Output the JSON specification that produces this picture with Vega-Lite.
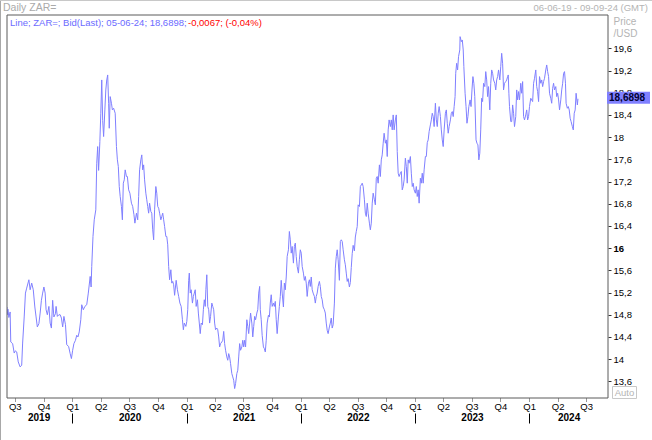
{
"$schema": "https://vega.github.io/schema/vega-lite/v6.json",
"width": 601, "height": 383,
"autosize": {"type": "none"},
"padding": {"left": 7, "top": 15, "right": 44, "bottom": 42},
"background": "white",
"config": {"view": {"stroke": null}, "font": "Liberation Sans", "text": {"font": "Liberation Sans"}, "axis": {"labelFont": "Liberation Sans", "titleFont": "Liberation Sans", "grid": false}},
"resolve": {"axis": {"x": "independent", "y": "independent"}},
"datasets": {"one": [{}], "zar": [
{"d":"2019-06-06","v":14.94},{"d":"2019-06-07","v":14.80},{"d":"2019-06-09","v":14.90},{"d":"2019-06-12","v":14.75},{"d":"2019-06-16","v":14.85},{"d":"2019-06-18","v":14.31},{"d":"2019-06-24","v":14.28},{"d":"2019-06-29","v":14.11},{"d":"2019-07-03","v":14.15},{"d":"2019-07-07","v":14.13},{"d":"2019-07-12","v":13.95},{"d":"2019-07-18","v":13.86},{"d":"2019-07-23","v":13.89},{"d":"2019-07-26","v":14.29},{"d":"2019-07-31","v":14.76},{"d":"2019-08-04","v":15.19},{"d":"2019-08-08","v":15.28},{"d":"2019-08-15","v":15.43},{"d":"2019-08-19","v":15.25},{"d":"2019-08-24","v":15.37},{"d":"2019-08-29","v":15.25},{"d":"2019-09-03","v":14.94},{"d":"2019-09-07","v":14.76},{"d":"2019-09-11","v":14.58},{"d":"2019-09-16","v":14.64},{"d":"2019-09-20","v":14.83},{"d":"2019-09-24","v":15.06},{"d":"2019-09-28","v":15.19},{"d":"2019-10-02","v":15.30},{"d":"2019-10-06","v":15.19},{"d":"2019-10-09","v":14.89},{"d":"2019-10-13","v":14.80},{"d":"2019-10-18","v":14.95},{"d":"2019-10-22","v":14.65},{"d":"2019-10-26","v":14.56},{"d":"2019-10-30","v":15.06},{"d":"2019-11-03","v":14.76},{"d":"2019-11-08","v":14.82},{"d":"2019-11-10","v":14.95},{"d":"2019-11-14","v":14.77},{"d":"2019-11-19","v":14.80},{"d":"2019-11-23","v":14.80},{"d":"2019-11-27","v":14.74},{"d":"2019-12-01","v":14.58},{"d":"2019-12-05","v":14.77},{"d":"2019-12-10","v":14.62},{"d":"2019-12-14","v":14.26},{"d":"2019-12-20","v":14.23},{"d":"2019-12-25","v":14.10},{"d":"2019-12-29","v":14.01},
{"d":"2020-01-02","v":14.16},{"d":"2020-01-06","v":14.28},{"d":"2020-01-11","v":14.34},{"d":"2020-01-15","v":14.43},{"d":"2020-01-19","v":14.40},{"d":"2020-01-23","v":14.49},{"d":"2020-01-28","v":14.71},{"d":"2020-01-31","v":14.98},{"d":"2020-02-05","v":14.89},{"d":"2020-02-10","v":14.95},{"d":"2020-02-16","v":14.98},{"d":"2020-02-21","v":15.19},{"d":"2020-02-27","v":15.49},{"d":"2020-03-01","v":15.30},{"d":"2020-03-03","v":15.67},{"d":"2020-03-07","v":16.21},{"d":"2020-03-11","v":16.51},{"d":"2020-03-16","v":16.69},{"d":"2020-03-19","v":17.53},{"d":"2020-03-22","v":17.83},{"d":"2020-03-25","v":17.40},{"d":"2020-03-29","v":17.92},{"d":"2020-04-01","v":18.43},{"d":"2020-04-04","v":19.03},{"d":"2020-04-07","v":18.30},{"d":"2020-04-10","v":18.01},{"d":"2020-04-14","v":18.49},{"d":"2020-04-17","v":18.85},{"d":"2020-04-20","v":19.03},{"d":"2020-04-23","v":19.12},{"d":"2020-04-26","v":18.61},{"d":"2020-04-28","v":18.16},{"d":"2020-05-01","v":18.73},{"d":"2020-05-05","v":18.61},{"d":"2020-05-08","v":18.49},{"d":"2020-05-12","v":18.52},{"d":"2020-05-17","v":18.43},{"d":"2020-05-21","v":17.83},{"d":"2020-05-24","v":17.59},{"d":"2020-05-27","v":17.47},{"d":"2020-05-30","v":17.11},{"d":"2020-06-02","v":16.93},{"d":"2020-06-06","v":16.75},{"d":"2020-06-09","v":16.51},{"d":"2020-06-12","v":17.17},{"d":"2020-06-15","v":17.23},{"d":"2020-06-18","v":17.41},{"d":"2020-06-22","v":17.29},{"d":"2020-06-25","v":17.29},{"d":"2020-06-29","v":17.05},{"d":"2020-07-03","v":16.99},{"d":"2020-07-08","v":16.81},{"d":"2020-07-12","v":16.75},{"d":"2020-07-16","v":16.60},{"d":"2020-07-19","v":16.45},{"d":"2020-07-24","v":16.63},{"d":"2020-07-28","v":16.51},{"d":"2020-07-31","v":16.93},{"d":"2020-08-03","v":17.41},{"d":"2020-08-07","v":17.59},{"d":"2020-08-10","v":17.68},{"d":"2020-08-13","v":17.41},{"d":"2020-08-16","v":17.50},{"d":"2020-08-19","v":17.23},{"d":"2020-08-23","v":16.99},{"d":"2020-08-26","v":16.87},{"d":"2020-08-29","v":16.75},{"d":"2020-09-01","v":16.63},{"d":"2020-09-04","v":16.81},{"d":"2020-09-08","v":16.66},{"d":"2020-09-11","v":16.63},{"d":"2020-09-14","v":16.33},{"d":"2020-09-17","v":16.15},{"d":"2020-09-20","v":16.69},{"d":"2020-09-24","v":17.11},{"d":"2020-09-27","v":16.99},{"d":"2020-09-30","v":16.75},{"d":"2020-10-03","v":16.72},{"d":"2020-10-06","v":16.63},{"d":"2020-10-10","v":16.51},{"d":"2020-10-13","v":16.57},{"d":"2020-10-16","v":16.63},{"d":"2020-10-19","v":16.51},{"d":"2020-10-22","v":16.39},{"d":"2020-10-26","v":16.21},{"d":"2020-10-29","v":16.21},{"d":"2020-11-01","v":16.06},{"d":"2020-11-04","v":15.67},{"d":"2020-11-07","v":15.43},{"d":"2020-11-11","v":15.61},{"d":"2020-11-14","v":15.37},{"d":"2020-11-17","v":15.40},{"d":"2020-11-20","v":15.34},{"d":"2020-11-23","v":15.15},{"d":"2020-11-28","v":15.42},{"d":"2020-12-02","v":15.25},{"d":"2020-12-06","v":15.13},{"d":"2020-12-10","v":15.01},{"d":"2020-12-14","v":14.95},{"d":"2020-12-18","v":14.71},{"d":"2020-12-21","v":14.53},{"d":"2020-12-24","v":14.65},{"d":"2020-12-29","v":14.59},
{"d":"2021-01-01","v":14.68},{"d":"2021-01-04","v":14.89},{"d":"2021-01-07","v":15.42},{"d":"2021-01-09","v":15.55},{"d":"2021-01-12","v":15.19},{"d":"2021-01-15","v":15.25},{"d":"2021-01-19","v":15.01},{"d":"2021-01-22","v":15.13},{"d":"2021-01-25","v":15.19},{"d":"2021-01-28","v":15.25},{"d":"2021-01-31","v":14.95},{"d":"2021-02-04","v":15.07},{"d":"2021-02-07","v":14.83},{"d":"2021-02-10","v":14.65},{"d":"2021-02-13","v":14.46},{"d":"2021-02-16","v":14.65},{"d":"2021-02-20","v":14.62},{"d":"2021-02-23","v":14.89},{"d":"2021-02-26","v":15.07},{"d":"2021-03-01","v":14.95},{"d":"2021-03-03","v":15.25},{"d":"2021-03-06","v":15.52},{"d":"2021-03-09","v":14.95},{"d":"2021-03-12","v":14.89},{"d":"2021-03-15","v":14.65},{"d":"2021-03-18","v":14.77},{"d":"2021-03-22","v":15.01},{"d":"2021-03-25","v":14.95},{"d":"2021-03-28","v":14.89},{"d":"2021-03-31","v":14.65},{"d":"2021-04-03","v":14.53},{"d":"2021-04-07","v":14.56},{"d":"2021-04-10","v":14.53},{"d":"2021-04-13","v":14.40},{"d":"2021-04-16","v":14.22},{"d":"2021-04-19","v":14.28},{"d":"2021-04-23","v":14.31},{"d":"2021-04-26","v":14.34},{"d":"2021-04-29","v":14.50},{"d":"2021-05-02","v":14.28},{"d":"2021-05-05","v":14.16},{"d":"2021-05-09","v":14.04},{"d":"2021-05-12","v":13.98},{"d":"2021-05-15","v":14.10},{"d":"2021-05-18","v":14.04},{"d":"2021-05-21","v":13.92},{"d":"2021-05-25","v":13.74},{"d":"2021-05-28","v":13.68},{"d":"2021-05-31","v":13.62},{"d":"2021-06-03","v":13.47},{"d":"2021-06-06","v":13.56},{"d":"2021-06-10","v":13.74},{"d":"2021-06-13","v":13.80},{"d":"2021-06-16","v":14.04},{"d":"2021-06-19","v":14.28},{"d":"2021-06-22","v":14.16},{"d":"2021-06-26","v":14.22},{"d":"2021-06-29","v":14.34},{"d":"2021-07-02","v":14.22},{"d":"2021-07-05","v":14.34},{"d":"2021-07-08","v":14.22},{"d":"2021-07-12","v":14.71},{"d":"2021-07-15","v":14.59},{"d":"2021-07-18","v":14.46},{"d":"2021-07-21","v":14.65},{"d":"2021-07-24","v":14.83},{"d":"2021-07-28","v":14.65},{"d":"2021-07-31","v":14.40},{"d":"2021-08-03","v":14.59},{"d":"2021-08-06","v":14.77},{"d":"2021-08-09","v":14.71},{"d":"2021-08-13","v":14.83},{"d":"2021-08-16","v":14.89},{"d":"2021-08-19","v":15.19},{"d":"2021-08-22","v":15.31},{"d":"2021-08-24","v":14.89},{"d":"2021-08-27","v":14.71},{"d":"2021-08-30","v":14.43},{"d":"2021-09-03","v":14.22},{"d":"2021-09-06","v":14.19},{"d":"2021-09-09","v":14.13},{"d":"2021-09-12","v":14.34},{"d":"2021-09-15","v":14.65},{"d":"2021-09-19","v":14.79},{"d":"2021-09-22","v":14.76},{"d":"2021-09-25","v":15.01},{"d":"2021-09-28","v":15.16},{"d":"2021-10-01","v":14.95},{"d":"2021-10-05","v":15.01},{"d":"2021-10-08","v":14.95},{"d":"2021-10-11","v":15.04},{"d":"2021-10-14","v":14.71},{"d":"2021-10-17","v":14.46},{"d":"2021-10-21","v":14.76},{"d":"2021-10-24","v":14.95},{"d":"2021-10-27","v":15.13},{"d":"2021-10-30","v":15.42},{"d":"2021-11-02","v":15.19},{"d":"2021-11-06","v":14.94},{"d":"2021-11-09","v":15.37},{"d":"2021-11-12","v":15.25},{"d":"2021-11-15","v":15.48},{"d":"2021-11-18","v":15.85},{"d":"2021-11-22","v":15.97},{"d":"2021-11-25","v":16.30},{"d":"2021-11-28","v":16.15},{"d":"2021-12-01","v":15.91},{"d":"2021-12-04","v":16.03},{"d":"2021-12-08","v":15.73},{"d":"2021-12-11","v":16.03},{"d":"2021-12-14","v":16.09},{"d":"2021-12-17","v":15.85},{"d":"2021-12-20","v":15.67},{"d":"2021-12-24","v":15.55},{"d":"2021-12-27","v":15.79},{"d":"2021-12-30","v":15.97},
{"d":"2022-01-02","v":15.91},{"d":"2022-01-05","v":15.67},{"d":"2022-01-09","v":15.55},{"d":"2022-01-12","v":15.42},{"d":"2022-01-15","v":15.49},{"d":"2022-01-18","v":15.37},{"d":"2022-01-21","v":15.13},{"d":"2022-01-25","v":15.37},{"d":"2022-01-28","v":15.43},{"d":"2022-01-31","v":15.31},{"d":"2022-02-03","v":15.48},{"d":"2022-02-06","v":15.25},{"d":"2022-02-09","v":15.19},{"d":"2022-02-13","v":15.13},{"d":"2022-02-16","v":15.01},{"d":"2022-02-19","v":15.13},{"d":"2022-02-22","v":15.19},{"d":"2022-02-25","v":15.31},{"d":"2022-03-01","v":15.40},{"d":"2022-03-04","v":15.31},{"d":"2022-03-07","v":15.13},{"d":"2022-03-10","v":15.07},{"d":"2022-03-13","v":14.94},{"d":"2022-03-17","v":14.89},{"d":"2022-03-20","v":14.83},{"d":"2022-03-23","v":14.65},{"d":"2022-03-26","v":14.52},{"d":"2022-03-29","v":14.46},{"d":"2022-04-02","v":14.58},{"d":"2022-04-05","v":14.65},{"d":"2022-04-08","v":14.74},{"d":"2022-04-11","v":14.56},{"d":"2022-04-14","v":14.62},{"d":"2022-04-18","v":15.01},{"d":"2022-04-21","v":15.64},{"d":"2022-04-24","v":15.85},{"d":"2022-04-27","v":15.97},{"d":"2022-04-30","v":15.79},{"d":"2022-05-04","v":15.42},{"d":"2022-05-07","v":16.12},{"d":"2022-05-10","v":16.15},{"d":"2022-05-13","v":16.12},{"d":"2022-05-16","v":15.97},{"d":"2022-05-20","v":15.79},{"d":"2022-05-23","v":15.70},{"d":"2022-05-26","v":15.55},{"d":"2022-05-29","v":15.40},{"d":"2022-06-01","v":15.45},{"d":"2022-06-05","v":15.30},{"d":"2022-06-08","v":15.38},{"d":"2022-06-11","v":15.65},{"d":"2022-06-14","v":15.90},{"d":"2022-06-17","v":16.05},{"d":"2022-06-21","v":15.95},{"d":"2022-06-24","v":16.20},{"d":"2022-06-27","v":16.30},{"d":"2022-06-30","v":16.39},{"d":"2022-07-03","v":16.78},{"d":"2022-07-07","v":16.75},{"d":"2022-07-10","v":17.11},{"d":"2022-07-13","v":17.14},{"d":"2022-07-16","v":17.17},{"d":"2022-07-19","v":17.11},{"d":"2022-07-23","v":16.87},{"d":"2022-07-26","v":16.63},{"d":"2022-07-29","v":16.57},{"d":"2022-08-01","v":16.81},{"d":"2022-08-04","v":16.63},{"d":"2022-08-08","v":16.45},{"d":"2022-08-11","v":16.33},{"d":"2022-08-14","v":16.45},{"d":"2022-08-17","v":16.81},{"d":"2022-08-20","v":16.99},{"d":"2022-08-24","v":16.87},{"d":"2022-08-27","v":16.78},{"d":"2022-08-30","v":17.26},{"d":"2022-09-02","v":17.29},{"d":"2022-09-05","v":17.17},{"d":"2022-09-09","v":17.50},{"d":"2022-09-12","v":17.29},{"d":"2022-09-15","v":17.59},{"d":"2022-09-18","v":17.68},{"d":"2022-09-21","v":17.89},{"d":"2022-09-24","v":18.07},{"d":"2022-09-28","v":17.89},{"d":"2022-10-01","v":17.95},{"d":"2022-10-04","v":17.65},{"d":"2022-10-07","v":18.13},{"d":"2022-10-10","v":18.31},{"d":"2022-10-14","v":18.19},{"d":"2022-10-17","v":18.31},{"d":"2022-10-20","v":18.13},{"d":"2022-10-23","v":18.40},{"d":"2022-10-26","v":18.13},{"d":"2022-10-30","v":18.31},{"d":"2022-11-02","v":18.40},{"d":"2022-11-05","v":17.74},{"d":"2022-11-08","v":17.35},{"d":"2022-11-11","v":17.29},{"d":"2022-11-15","v":17.35},{"d":"2022-11-18","v":17.38},{"d":"2022-11-21","v":17.05},{"d":"2022-11-24","v":17.11},{"d":"2022-11-27","v":17.23},{"d":"2022-12-01","v":17.62},{"d":"2022-12-04","v":17.47},{"d":"2022-12-07","v":17.17},{"d":"2022-12-10","v":17.59},{"d":"2022-12-13","v":17.53},{"d":"2022-12-17","v":17.65},{"d":"2022-12-20","v":17.35},{"d":"2022-12-23","v":17.11},{"d":"2022-12-26","v":17.17},{"d":"2022-12-29","v":17.05},
{"d":"2023-01-02","v":16.99},{"d":"2023-01-05","v":17.11},{"d":"2023-01-08","v":16.93},{"d":"2023-01-11","v":17.05},{"d":"2023-01-14","v":16.81},{"d":"2023-01-18","v":17.26},{"d":"2023-01-21","v":17.17},{"d":"2023-01-24","v":17.35},{"d":"2023-01-27","v":17.17},{"d":"2023-01-30","v":17.41},{"d":"2023-02-03","v":17.65},{"d":"2023-02-06","v":17.65},{"d":"2023-02-09","v":17.90},{"d":"2023-02-12","v":17.95},{"d":"2023-02-15","v":18.10},{"d":"2023-02-19","v":18.22},{"d":"2023-02-22","v":18.31},{"d":"2023-02-25","v":18.43},{"d":"2023-02-28","v":18.37},{"d":"2023-03-03","v":18.19},{"d":"2023-03-07","v":18.61},{"d":"2023-03-10","v":18.31},{"d":"2023-03-13","v":18.19},{"d":"2023-03-16","v":18.43},{"d":"2023-03-19","v":18.55},{"d":"2023-03-23","v":18.37},{"d":"2023-03-26","v":18.13},{"d":"2023-03-29","v":17.95},{"d":"2023-04-01","v":17.83},{"d":"2023-04-04","v":18.13},{"d":"2023-04-08","v":18.43},{"d":"2023-04-11","v":18.49},{"d":"2023-04-14","v":18.25},{"d":"2023-04-17","v":18.07},{"d":"2023-04-20","v":18.19},{"d":"2023-04-24","v":18.31},{"d":"2023-04-27","v":18.43},{"d":"2023-04-30","v":18.46},{"d":"2023-05-03","v":18.37},{"d":"2023-05-06","v":18.55},{"d":"2023-05-09","v":18.73},{"d":"2023-05-11","v":19.15},{"d":"2023-05-14","v":19.33},{"d":"2023-05-17","v":19.21},{"d":"2023-05-20","v":19.45},{"d":"2023-05-24","v":19.57},{"d":"2023-05-25","v":19.81},{"d":"2023-05-29","v":19.72},{"d":"2023-06-01","v":19.75},{"d":"2023-06-04","v":19.57},{"d":"2023-06-06","v":19.27},{"d":"2023-06-10","v":18.79},{"d":"2023-06-13","v":18.55},{"d":"2023-06-16","v":18.25},{"d":"2023-06-19","v":18.37},{"d":"2023-06-22","v":18.55},{"d":"2023-06-26","v":18.67},{"d":"2023-06-29","v":18.55},{"d":"2023-07-02","v":18.85},{"d":"2023-07-05","v":19.09},{"d":"2023-07-08","v":18.97},{"d":"2023-07-11","v":18.73},{"d":"2023-07-15","v":17.95},{"d":"2023-07-18","v":17.89},{"d":"2023-07-21","v":17.86},{"d":"2023-07-24","v":17.59},{"d":"2023-07-27","v":17.71},{"d":"2023-07-30","v":18.13},{"d":"2023-08-02","v":18.70},{"d":"2023-08-05","v":18.64},{"d":"2023-08-08","v":18.97},{"d":"2023-08-12","v":18.91},{"d":"2023-08-15","v":19.18},{"d":"2023-08-18","v":19.03},{"d":"2023-08-21","v":18.73},{"d":"2023-08-24","v":18.91},{"d":"2023-08-28","v":18.49},{"d":"2023-08-31","v":18.97},{"d":"2023-09-03","v":19.21},{"d":"2023-09-06","v":19.15},{"d":"2023-09-09","v":19.03},{"d":"2023-09-13","v":18.97},{"d":"2023-09-16","v":18.85},{"d":"2023-09-19","v":19.03},{"d":"2023-09-22","v":19.09},{"d":"2023-09-25","v":19.21},{"d":"2023-09-29","v":19.03},{"d":"2023-10-02","v":19.27},{"d":"2023-10-05","v":19.51},{"d":"2023-10-08","v":19.33},{"d":"2023-10-11","v":18.85},{"d":"2023-10-14","v":18.97},{"d":"2023-10-18","v":19.00},{"d":"2023-10-21","v":19.03},{"d":"2023-10-24","v":19.09},{"d":"2023-10-26","v":19.12},{"d":"2023-10-28","v":18.79},{"d":"2023-10-30","v":18.55},{"d":"2023-11-03","v":18.28},{"d":"2023-11-06","v":18.28},{"d":"2023-11-09","v":18.58},{"d":"2023-11-12","v":18.43},{"d":"2023-11-15","v":18.19},{"d":"2023-11-19","v":18.37},{"d":"2023-11-22","v":18.85},{"d":"2023-11-25","v":18.67},{"d":"2023-11-28","v":18.82},{"d":"2023-12-01","v":18.67},{"d":"2023-12-05","v":18.97},{"d":"2023-12-08","v":18.79},{"d":"2023-12-11","v":19.00},{"d":"2023-12-14","v":18.37},{"d":"2023-12-17","v":18.31},{"d":"2023-12-21","v":18.40},{"d":"2023-12-24","v":18.49},{"d":"2023-12-27","v":18.31},{"d":"2023-12-30","v":18.37},
{"d":"2024-01-02","v":18.55},{"d":"2024-01-06","v":18.70},{"d":"2024-01-09","v":18.67},{"d":"2024-01-12","v":18.64},{"d":"2024-01-15","v":18.97},{"d":"2024-01-18","v":19.06},{"d":"2024-01-22","v":19.21},{"d":"2024-01-25","v":18.91},{"d":"2024-01-28","v":18.82},{"d":"2024-01-31","v":18.64},{"d":"2024-02-03","v":19.09},{"d":"2024-02-07","v":18.97},{"d":"2024-02-10","v":19.03},{"d":"2024-02-13","v":18.91},{"d":"2024-02-16","v":19.00},{"d":"2024-02-19","v":19.06},{"d":"2024-02-23","v":19.21},{"d":"2024-02-26","v":19.30},{"d":"2024-02-29","v":19.18},{"d":"2024-03-03","v":19.09},{"d":"2024-03-06","v":18.79},{"d":"2024-03-10","v":18.70},{"d":"2024-03-13","v":18.61},{"d":"2024-03-16","v":18.88},{"d":"2024-03-19","v":18.97},{"d":"2024-03-22","v":18.85},{"d":"2024-03-26","v":18.91},{"d":"2024-03-29","v":18.73},{"d":"2024-04-01","v":18.79},{"d":"2024-04-04","v":18.67},{"d":"2024-04-07","v":18.49},{"d":"2024-04-11","v":18.67},{"d":"2024-04-14","v":18.85},{"d":"2024-04-17","v":18.97},{"d":"2024-04-20","v":19.15},{"d":"2024-04-23","v":19.18},{"d":"2024-04-26","v":18.97},{"d":"2024-04-28","v":18.61},{"d":"2024-05-02","v":18.52},{"d":"2024-05-05","v":18.55},{"d":"2024-05-08","v":18.49},{"d":"2024-05-11","v":18.34},{"d":"2024-05-14","v":18.28},{"d":"2024-05-18","v":18.19},{"d":"2024-05-21","v":18.13},{"d":"2024-05-24","v":18.43},{"d":"2024-05-27","v":18.49},{"d":"2024-05-30","v":18.79},{"d":"2024-06-03","v":18.58},{"d":"2024-06-05","v":18.6898}
]},
"layer": [
{
"data": {"name": "zar"},
"mark": {"type": "line", "color": "#8080ff", "strokeWidth": 1, "clip": true},
"encoding": {
"x": {"field": "d", "type": "temporal",
 "scale": {"type": "utc", "domain": [{"year": 2019, "month": 6, "date": 6, "utc": true}, {"year": 2024, "month": 9, "date": 9, "utc": true}], "nice": false},
 "axis": {"orient": "bottom", "title": null, "domain": false, "grid": false,
  "values": [{"year":2019,"month":7,"date":1,"utc":true},{"year":2019,"month":10,"date":1,"utc":true},{"year":2020,"month":1,"date":1,"utc":true},{"year":2020,"month":4,"date":1,"utc":true},{"year":2020,"month":7,"date":1,"utc":true},{"year":2020,"month":10,"date":1,"utc":true},{"year":2021,"month":1,"date":1,"utc":true},{"year":2021,"month":4,"date":1,"utc":true},{"year":2021,"month":7,"date":1,"utc":true},{"year":2021,"month":10,"date":1,"utc":true},{"year":2022,"month":1,"date":1,"utc":true},{"year":2022,"month":4,"date":1,"utc":true},{"year":2022,"month":7,"date":1,"utc":true},{"year":2022,"month":10,"date":1,"utc":true},{"year":2023,"month":1,"date":1,"utc":true},{"year":2023,"month":4,"date":1,"utc":true},{"year":2023,"month":7,"date":1,"utc":true},{"year":2023,"month":10,"date":1,"utc":true},{"year":2024,"month":1,"date":1,"utc":true},{"year":2024,"month":4,"date":1,"utc":true},{"year":2024,"month":7,"date":1,"utc":true}],
  "labelExpr": "'Q' + utcquarter(datum.value)",
  "tickSize": 3, "tickColor": "#333333", "tickDash": [1, 1], "labelPadding": 0,
  "labelFontSize": 9.5, "labelColor": "#000000", "labelFlush": false, "labelOverlap": false}},
"y": {"field": "v", "type": "quantitative",
 "scale": {"domain": [13.3, 20.2], "nice": false, "zero": false},
 "axis": {"orient": "right", "domain": false, "grid": false,
  "values": [13.6, 14, 14.4, 14.8, 15.2, 15.6, 16, 16.4, 16.8, 17.2, 17.6, 18, 18.4, 18.8, 19.2, 19.6],
  "labelExpr": "replace(format(datum.value, '.1~f'), '.', ',')",
  "tickSize": 3, "tickColor": "#333333", "labelPadding": 2, "labelFontSize": 9.5, "labelColor": "#000000",
  "labelFontWeight": {"condition": {"test": "datum.value === 16", "value": "bold"}, "value": "normal"},
  "labelFlush": false, "labelOverlap": false,
  "title": ["Price", "/USD"], "titleAngle": 0, "titleAlign": "left", "titleBaseline": "top", "titleX": 5, "titleY": 1,
  "titleFontSize": 10, "titleFontWeight": "normal", "titleColor": "#b4b4b4", "titleLineHeight": 12}}
}
},
{
"data": {"name": "one"},
"mark": {"type": "rect", "fill": null, "fillOpacity": 0, "stroke": "#5a5a5a", "strokeWidth": 1, "clip": false},
"encoding": {
"x": {"datum": {"year": 2019, "month": 6, "date": 6, "utc": true}, "type": "temporal",
 "scale": {"type": "utc", "domain": [{"year": 2019, "month": 6, "date": 6, "utc": true}, {"year": 2024, "month": 9, "date": 9, "utc": true}], "nice": false}, "axis": null},
"x2": {"datum": {"year": 2024, "month": 9, "date": 9, "utc": true}},
"y": {"datum": 20.2, "type": "quantitative", "scale": {"domain": [13.3, 20.2], "nice": false, "zero": false}, "axis": null},
"y2": {"datum": 13.3}
}
},
{
"data": {"name": "one"},
"mark": {"type": "text", "align": "left", "baseline": "middle", "dx": 3, "dy": 8, "fontSize": 9.5, "color": "#6b6bff"},
"encoding": {
"x": {"datum": {"year": 2019, "month": 6, "date": 6, "utc": true}, "type": "temporal",
 "scale": {"type": "utc", "domain": [{"year": 2019, "month": 6, "date": 6, "utc": true}, {"year": 2024, "month": 9, "date": 9, "utc": true}], "nice": false},
 "axis": {"orient": "bottom", "title": null, "domain": false, "grid": false, "ticks": false,
  "values": [{"year":2019,"month":9,"date":15,"utc":true},{"year":2020,"month":7,"date":2,"utc":true},{"year":2021,"month":7,"date":2,"utc":true},{"year":2022,"month":7,"date":2,"utc":true},{"year":2023,"month":7,"date":2,"utc":true},{"year":2024,"month":5,"date":6,"utc":true}],
  "labelExpr": "utcFormat(datum.value, '%Y')", "labelPadding": 14.5, "labelFontSize": 10, "labelFontWeight": "bold", "labelColor": "#000000", "labelFlush": false, "labelOverlap": false}},
"y": {"datum": 20.2, "type": "quantitative", "scale": {"domain": [13.3, 20.2], "nice": false, "zero": false}, "axis": null},
"text": {"value": "Line; ZAR=; Bid(Last); 05-06-24; 18,6898;"}
}
},
{
"data": {"name": "one"},
"mark": {"type": "text", "align": "left", "baseline": "middle", "dx": 181, "dy": 8, "fontSize": 9.5, "color": "#ff0000"},
"encoding": {
"x": {"datum": {"year": 2019, "month": 6, "date": 6, "utc": true}, "type": "temporal",
 "scale": {"type": "utc", "domain": [{"year": 2019, "month": 6, "date": 6, "utc": true}, {"year": 2024, "month": 9, "date": 9, "utc": true}], "nice": false},
 "axis": {"orient": "bottom", "title": null, "domain": false, "grid": false, "labels": false, "ticks": true, "tickSize": 10, "offset": 15, "tickColor": "#000000", "tickWidth": 1,
  "values": [{"year":2020,"month":1,"date":1,"utc":true},{"year":2021,"month":1,"date":1,"utc":true},{"year":2022,"month":1,"date":1,"utc":true},{"year":2023,"month":1,"date":1,"utc":true},{"year":2024,"month":1,"date":1,"utc":true}]}},
"y": {"datum": 20.2, "type": "quantitative", "scale": {"domain": [13.3, 20.2], "nice": false, "zero": false}, "axis": null},
"text": {"value": "-0,0067; (-0,04%)"}
}
},
{
"data": {"name": "one"},
"mark": {"type": "text", "align": "left", "baseline": "middle", "dx": -4, "dy": -7, "fontSize": 10.5, "color": "#aaaaaa"},
"encoding": {
"x": {"datum": {"year": 2019, "month": 6, "date": 6, "utc": true}, "type": "temporal",
 "scale": {"type": "utc", "domain": [{"year": 2019, "month": 6, "date": 6, "utc": true}, {"year": 2024, "month": 9, "date": 9, "utc": true}], "nice": false}, "axis": null},
"y": {"datum": 20.2, "type": "quantitative", "scale": {"domain": [13.3, 20.2], "nice": false, "zero": false}, "axis": null},
"text": {"value": "Daily ZAR="}
}
},
{
"data": {"name": "one"},
"mark": {"type": "text", "align": "right", "baseline": "middle", "dx": 40, "dy": -7, "fontSize": 9.5, "color": "#b4b4b4"},
"encoding": {
"x": {"datum": {"year": 2024, "month": 9, "date": 9, "utc": true}, "type": "temporal",
 "scale": {"type": "utc", "domain": [{"year": 2019, "month": 6, "date": 6, "utc": true}, {"year": 2024, "month": 9, "date": 9, "utc": true}], "nice": false}, "axis": null},
"y": {"datum": 20.2, "type": "quantitative", "scale": {"domain": [13.3, 20.2], "nice": false, "zero": false}, "axis": null},
"text": {"value": "06-06-19 - 09-09-24 (GMT)"}
}
},
{
"data": {"name": "one"},
"mark": {"type": "rect", "color": "#8080ff", "xOffset": -1, "x2Offset": 42, "yOffset": -7, "y2Offset": 5, "clip": false},
"encoding": {
"x": {"datum": {"year": 2024, "month": 9, "date": 9, "utc": true}, "type": "temporal",
 "scale": {"type": "utc", "domain": [{"year": 2019, "month": 6, "date": 6, "utc": true}, {"year": 2024, "month": 9, "date": 9, "utc": true}], "nice": false}, "axis": null},
"x2": {"datum": {"year": 2024, "month": 9, "date": 9, "utc": true}},
"y": {"datum": 18.6898, "type": "quantitative", "scale": {"domain": [13.3, 20.2], "nice": false, "zero": false}, "axis": null},
"y2": {"datum": 18.6898}
}
},
{
"data": {"name": "one"},
"mark": {"type": "text", "align": "left", "baseline": "middle", "dx": 1, "dy": -1, "fontSize": 10, "fontWeight": "bold", "color": "#000033"},
"encoding": {
"x": {"datum": {"year": 2024, "month": 9, "date": 9, "utc": true}, "type": "temporal",
 "scale": {"type": "utc", "domain": [{"year": 2019, "month": 6, "date": 6, "utc": true}, {"year": 2024, "month": 9, "date": 9, "utc": true}], "nice": false}, "axis": null},
"y": {"datum": 18.6898, "type": "quantitative", "scale": {"domain": [13.3, 20.2], "nice": false, "zero": false}, "axis": null},
"text": {"value": "18,6898"}
}
},
{
"data": {"name": "one"},
"mark": {"type": "rect", "fill": "white", "stroke": "#c8c8c8", "strokeWidth": 1, "xOffset": 4.5, "x2Offset": 28.5, "yOffset": -11.5, "y2Offset": 0.5, "clip": false},
"encoding": {
"x": {"datum": {"year": 2024, "month": 9, "date": 9, "utc": true}, "type": "temporal",
 "scale": {"type": "utc", "domain": [{"year": 2019, "month": 6, "date": 6, "utc": true}, {"year": 2024, "month": 9, "date": 9, "utc": true}], "nice": false}, "axis": null},
"x2": {"datum": {"year": 2024, "month": 9, "date": 9, "utc": true}},
"y": {"datum": 13.3, "type": "quantitative", "scale": {"domain": [13.3, 20.2], "nice": false, "zero": false}, "axis": null},
"y2": {"datum": 13.3}
}
},
{
"data": {"name": "one"},
"mark": {"type": "text", "align": "center", "baseline": "middle", "dx": 16.5, "dy": -5.5, "fontSize": 9.5, "color": "#b4b4b4"},
"encoding": {
"x": {"datum": {"year": 2024, "month": 9, "date": 9, "utc": true}, "type": "temporal",
 "scale": {"type": "utc", "domain": [{"year": 2019, "month": 6, "date": 6, "utc": true}, {"year": 2024, "month": 9, "date": 9, "utc": true}], "nice": false}, "axis": null},
"y": {"datum": 13.3, "type": "quantitative", "scale": {"domain": [13.3, 20.2], "nice": false, "zero": false}, "axis": null},
"text": {"value": "Auto"}
}
},
{
"data": {"name": "one"},
"mark": {"type": "rule", "color": "#a8a8a8", "strokeWidth": 1, "xOffset": -6.5, "yOffset": -15, "y2Offset": 42, "clip": false},
"encoding": {
"x": {"datum": {"year": 2019, "month": 6, "date": 6, "utc": true}, "type": "temporal",
 "scale": {"type": "utc", "domain": [{"year": 2019, "month": 6, "date": 6, "utc": true}, {"year": 2024, "month": 9, "date": 9, "utc": true}], "nice": false}, "axis": null},
"y": {"datum": 20.2, "type": "quantitative", "scale": {"domain": [13.3, 20.2], "nice": false, "zero": false}, "axis": null},
"y2": {"datum": 13.3}
}
},
{
"data": {"name": "one"},
"mark": {"type": "rule", "color": "#c8c8c8", "strokeWidth": 1, "xOffset": -7, "x2Offset": 44, "yOffset": -14.5, "clip": false},
"encoding": {
"x": {"datum": {"year": 2019, "month": 6, "date": 6, "utc": true}, "type": "temporal",
 "scale": {"type": "utc", "domain": [{"year": 2019, "month": 6, "date": 6, "utc": true}, {"year": 2024, "month": 9, "date": 9, "utc": true}], "nice": false}, "axis": null},
"x2": {"datum": {"year": 2024, "month": 9, "date": 9, "utc": true}},
"y": {"datum": 20.2, "type": "quantitative", "scale": {"domain": [13.3, 20.2], "nice": false, "zero": false}, "axis": null}
}
}
]
}
